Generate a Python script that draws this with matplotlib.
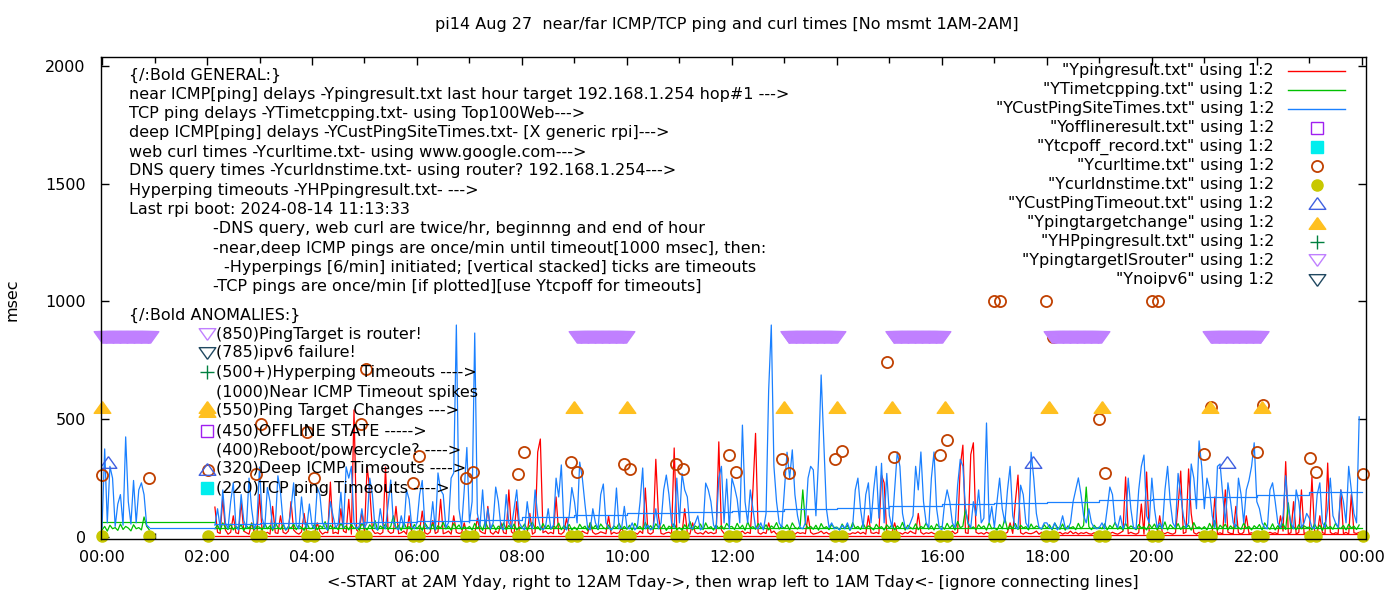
import numpy as np
import matplotlib
matplotlib.use("Agg")
import matplotlib.pyplot as plt

nan = float("nan")

# ---- data -----------------------------------------------------------------
# ping series sampled every 3 minutes, 00:00 .. 23:57 (no measurement 1AM-2AM)
near_icmp_ms = (
    [nan] * 20 +                                                                          # 00h
    [nan] * 20 +                                                                          # 01h
    [nan, nan, nan, 127, 20, 15, 165, 30, 12, 20, 90, 18, 14, 150, 25, 18, 12, 60, 20, 15] +  # 02h
    [180, 25, 15, 20, 12, 130, 18, 15, 90, 20, 14, 25, 150, 30, 18, 12, 22, 100, 15, 20] +    # 03h
    [18, 15, 60, 25, 12, 20, 18, 233, 15, 20, 14, 120, 25, 18, 160, 12, 540, 30, 18, 110] +   # 04h
    [20, 300, 200, 30, 15, 18, 12, 20, 297, 25, 15, 20, 130, 14, 18, 25, 12, 90, 20, 15] +    # 05h
    [15, 25, 110, 18, 12, 20, 70, 15, 22, 160, 14, 18, 25, 12, 90, 20, 15, 18, 60, 12] +      # 06h
    [20, 15, 12, 80, 25, 18, 14, 130, 20, 12, 25, 15, 60, 18, 14, 200, 22, 12, 150, 20] +     # 07h
    [15, 25, 18, 100, 12, 20, 361, 416, 18, 25, 14, 20, 14, 170, 15, 12, 22, 80, 18, 15] +    # 08h
    [20, 15, 12, 25, 18, 14, 60, 20, 12, 15, 22, 18, 14, 90, 12, 20, 15, 18, 40, 12] +        # 09h
    [15, 20, 14, 18, 12, 25, 15, 208, 18, 12, 20, 330, 90, 15, 12, 18, 20, 14, 378, 25] +     # 10h
    [20, 15, 120, 18, 12, 60, 20, 14, 18, 12, 25, 15, 20, 14, 18, 404, 30, 15, 12, 20] +      # 11h
    [15, 20, 12, 18, 25, 14, 20, 15, 200, 440, 18, 12, 20, 15, 60, 18, 25, 12, 20, 14] +      # 12h
    [20, 14, 18, 25, 12, 20, 15, 18, 14, 90, 20, 12, 15, 18, 25, 14, 20, 12, 18, 15] +        # 13h
    [12, 18, 15, 20, 14, 12, 18, 15, 22, 14, 20, 12, 90, 18, 15, 20, 14, 263, 230, 18] +      # 14h
    [15, 20, 60, 14, 18, 12, 20, 15, 25, 18, 14, 100, 20, 12, 18, 15, 20, 14, 12, 18] +       # 15h
    [20, 15, 18, 12, 25, 14, 20, 300, 390, 18, 15, 350, 400, 20, 14, 18, 12, 20, 15, 18] +    # 16h
    [15, 20, 12, 18, 14, 20, 60, 15, 150, 263, 18, 12, 20, 15, 14, 18, 25, 12, 20, 15] +      # 17h
    [18, 12, 20, 15, 14, 20, 12, 18, 15, 25, 14, 20, 12, 18, 15, 20, 14, 12, 18, 15] +        # 18h
    [20, 15, 12, 18, 14, 20, 15, 12, 18, 25, 255, 14, 20, 15, 12, 18, 140, 12, 276, 20] +     # 19h
    [15, 20, 12, 90, 18, 14, 20, 15, 12, 18, 130, 280, 15, 20, 289, 100, 18, 12, 20, 15] +    # 20h
    [18, 12, 20, 15, 170, 14, 18, 12, 200, 20, 15, 14, 130, 18, 12, 20, 90, 15, 18, 12] +     # 21h
    [20, 15, 12, 18, 14, 20, 15, 18, 12, 90, 25, 320, 14, 18, 150, 12, 20, 200, 15, 18] +     # 22h
    [14, 255, 20, 12, 90, 18, 15, 314, 20, 12, 18, 15, 200, 14, 20, 12, 180, 18, 15, 20]      # 23h
)

tcp_ping_ms = (
    [30, 45, 25, 50, 35, 40, 28, 55, 32, 45, 38, 26, 52, 35, 40, 30, 85, 45, 30, nan] +       # 00h
    [nan] * 20 +                                                                          # 01h
    [nan, nan, nan, 35, 50, 28, 60, 40, 32, 55, 30, 45, 38, 52, 27, 48, 36, 58, 31, 44] +     # 02h
    [42, 30, 58, 35, 48, 27, 62, 40, 33, 52, 29, 45, 37, 55, 31, 49, 40, 28, 60, 36] +        # 03h
    [36, 55, 30, 48, 40, 65, 28, 50, 35, 44, 31, 58, 39, 47, 30, 54, 36, 42, 29, 57] +        # 04h
    [40, 30, 52, 36, 70, 29, 47, 38, 56, 32, 45, 90, 35, 50, 28, 61, 37, 44, 31, 53] +        # 05h
    [35, 50, 28, 60, 42, 33, 55, 30, 48, 37, 62, 34, 46, 29, 57, 38, 51, 32, 44, 36] +        # 06h
    [45, 30, 58, 36, 50, 28, 65, 40, 33, 52, 30, 46, 38, 60, 31, 49, 35, 55, 29, 43] +        # 07h
    [38, 55, 30, 48, 62, 35, 44, 29, 57, 36, 50, 33, 46, 40, 59, 31, 48, 37, 53, 30] +        # 08h
    [42, 30, 54, 37, 46, 28, 60, 35, 49, 31, 55, 40, 34, 51, 29, 47, 38, 58, 32, 45] +        # 09h
    [33, 50, 29, 58, 38, 45, 30, 62, 36, 48, 32, 56, 40, 35, 53, 28, 46, 39, 57, 31] +        # 10h
    [40, 28, 52, 35, 66, 30, 47, 39, 55, 31, 60, 37, 44, 29, 51, 36, 48, 33, 58, 42] +        # 11h
    [45, 32, 58, 36, 50, 29, 64, 38, 44, 33, 57, 40, 35, 52, 30, 47, 39, 61, 34, 46] +        # 12h
    [36, 52, 30, 60, 41, 34, 48, 200, 56, 38, 45, 33, 50, 29, 57, 37, 44, 31, 53, 40] +       # 13h
    [42, 30, 55, 36, 49, 28, 61, 37, 45, 32, 58, 35, 47, 40, 30, 54, 38, 44, 29, 52] +        # 14h
    [38, 53, 30, 47, 36, 62, 29, 50, 40, 34, 56, 31, 45, 38, 59, 33, 48, 30, 55, 41] +        # 15h
    [45, 33, 58, 37, 51, 30, 66, 39, 46, 120, 55, 36, 43, 31, 52, 38, 47, 29, 60, 35] +       # 16h
    [40, 29, 53, 35, 80, 31, 48, 37, 57, 32, 50, 38, 44, 30, 55, 36, 47, 41, 33, 52] +        # 17h
    [36, 52, 30, 59, 41, 33, 55, 29, 47, 38, 44, 31, 58, 35, 49, 212, 44, 31, 50, 37] +       # 18h
    [42, 35, 56, 30, 49, 38, 62, 33, 45, 29, 58, 36, 47, 40, 31, 53, 38, 44, 30, 55] +        # 19h
    [38, 55, 31, 48, 36, 64, 30, 52, 40, 34, 57, 32, 46, 39, 50, 29, 61, 37, 43, 33] +        # 20h
    [44, 30, 58, 36, 70, 29, 50, 38, 55, 31, 47, 35, 52, 40, 33, 59, 37, 45, 30, 48] +        # 21h
    [37, 53, 30, 60, 41, 33, 56, 30, 48, 36, 56, 32, 145, 38, 44, 31, 52, 35, 47, 40] +       # 22h
    [42, 31, 55, 35, 50, 28, 61, 37, 45, 33, 58, 40, 36, 49, 30, 54, 38, 46, 32, 51]          # 23h
)

deep_icmp_ms = (
    [40, 374, 60, 300, 250, 45, 140, 180, 50, 425, 150, 55, 240, 60, 200, 230, 180, 50, 40, nan] +  # 00h
    [nan] * 20 +                                                                                # 01h
    [nan, nan, nan, 50, 120, 40, 200, 60, 35, 150, 230, 45, 30, 180, 70, 40, 250, 120, 35, 60] +    # 02h
    [297, 80, 40, 210, 150, 35, 45, 260, 190, 60, 30, 40, 120, 230, 50, 35, 170, 60, 40, 140] +     # 03h
    [50, 35, 210, 180, 60, 40, 30, 150, 90, 40, 55, 190, 40, 298, 250, 300, 60, 35, 45, 120] +      # 04h
    [40, 60, 250, 180, 40, 30, 120, 50, 35, 140, 242, 60, 40, 30, 90, 40, 200, 160, 45, 35] +       # 05h
    [60, 180, 240, 50, 35, 40, 150, 30, 272, 200, 180, 40, 60, 250, 272, 900, 120, 40, 200, 380] +  # 06h
    [60, 150, 866, 100, 45, 200, 40, 120, 35, 60, 212, 150, 40, 30, 180, 60, 40, 120, 200, 60] +    # 07h
    [40, 30, 150, 60, 35, 200, 90, 40, 30, 45, 120, 35, 50, 250, 170, 306, 40, 30, 90, 210] +       # 08h
    [150, 60, 318, 250, 140, 40, 30, 120, 60, 35, 180, 225, 60, 40, 30, 45, 208, 35, 40, 130] +     # 09h
    [40, 35, 60, 30, 45, 150, 293, 35, 50, 30, 40, 120, 35, 60, 200, 263, 180, 60, 40, 250] +       # 10h
    [60, 270, 200, 170, 40, 35, 60, 90, 30, 40, 229, 200, 150, 50, 35, 250, 300, 60, 246, 35] +     # 11h
    [250, 210, 160, 60, 475, 150, 60, 200, 120, 40, 35, 60, 30, 100, 624, 900, 300, 150, 60, 40] +  # 12h
    [200, 360, 250, 370, 180, 90, 40, 35, 60, 250, 300, 285, 90, 330, 688, 400, 120, 40, 60, 35] +  # 13h
    [40, 30, 50, 35, 60, 30, 45, 200, 250, 120, 40, 180, 230, 60, 200, 300, 80, 313, 60, 270] +     # 14h
    [90, 40, 200, 361, 300, 100, 40, 35, 60, 90, 300, 200, 361, 150, 60, 40, 250, 361, 120, 40] +   # 15h
    [30, 140, 200, 150, 60, 40, 220, 330, 300, 120, 60, 40, 150, 90, 200, 60, 80, 484, 60, 130] +   # 16h
    [40, 150, 250, 120, 60, 200, 300, 90, 40, 35, 220, 180, 60, 40, 360, 250, 100, 40, 35, 60] +    # 17h
    [60, 40, 35, 60, 30, 45, 90, 40, 35, 60, 150, 200, 251, 180, 90, 60, 120, 60, 40, 35] +         # 18h
    [40, 60, 35, 120, 212, 180, 60, 40, 90, 35, 60, 250, 120, 40, 35, 200, 300, 348, 90, 60] +      # 19h
    [250, 120, 40, 60, 35, 200, 300, 150, 60, 40, 270, 180, 90, 40, 60, 310, 250, 120, 408, 300] +  # 20h
    [120, 250, 200, 90, 40, 300, 310, 180, 60, 230, 150, 60, 40, 250, 180, 60, 200, 240, 300, 400] +  # 21h
    [150, 120, 60, 40, 35, 200, 230, 150, 60, 40, 90, 260, 120, 60, 35, 200, 150, 40, 60, 100] +    # 22h
    [80, 40, 35, 180, 230, 60, 40, 120, 250, 90, 60, 40, 200, 150, 60, 300, 200, 100, 60, 510]      # 23h
)

# wrap-around connecting lines (hour, msec)
near_link_hours = [2.15, 12.0, 18.0, 21.0, 24.0]
near_link_ms = [4, 6, 9, 12, 12]
tcp_link_hours = [0.0, 2.15]
tcp_link_ms = [65, 65]
tcp_link2_hours = [2.15, 24.0]
tcp_link2_ms = [40, 40]
deep_link_hours = [0.92, 2.15]
deep_link_ms = [38, 38]
deep_step_hours = [2.15, 3, 4, 5, 6, 7, 8, 9, 10, 11, 12, 13, 14, 15, 16,
                   17, 18, 19, 20, 21, 22, 23, 24]
deep_step_ms = [55, 58, 60, 63, 66, 72, 85, 92, 100, 106, 112, 118, 125, 132,
                140, 144, 148, 155, 161, 168, 178, 190, 190]

# web curl and DNS query, twice per hour
curl_hours = [0.00, 0.90, 2.02, 2.94, 3.03, 3.91, 4.04, 4.94, 5.03, 5.93,
              6.04, 6.94, 7.07, 7.93, 8.04, 8.94, 9.05, 9.95, 10.06, 10.94,
              11.07, 11.95, 12.07, 12.96, 13.08, 13.97, 14.09, 14.96, 15.08,
              15.97, 16.09, 16.99, 17.10, 17.98, 18.11, 18.99, 19.10, 20.00,
              20.11, 20.99, 21.12, 22.00, 22.11, 23.01, 23.12, 24.02]
curl_ms = [263, 250, 284, 268, 480, 446, 250, 480, 713, 229,
           344, 251, 276, 267, 361, 318, 276, 309, 289, 310,
           289, 348, 276, 330, 272, 330, 365, 743, 340,
           348, 412, 1000, 1000, 1000, 850, 500, 272, 1000,
           1000, 352, 552, 361, 561, 335, 276, 268]
dns_ms = [4, 5, 3, 4, 6, 4, 5, 3, 4, 5,
          4, 3, 5, 4, 6, 4, 3, 5, 4, 4,
          5, 3, 4, 6, 4, 5, 3, 4, 5,
          4, 3, 5, 4, 4, 6, 3, 5, 4,
          5, 4, 3, 5, 4, 6, 4, 5]

cust_timeout_hours = [0.11, 17.73, 21.43]
cust_timeout_ms = [320, 320, 320]

target_change_hours = [0.0, 2.0, 9.0, 10.0, 13.0, 14.0, 15.05, 16.05,
                       18.05, 19.05, 21.1, 22.1]
target_change_ms = [550] * len(target_change_hours)

# ping target is router: once per minute during these spans
router_start = [0.0, 9.05, 13.08, 15.08, 18.10, 21.12]
router_end = [0.92, 9.99, 14.00, 16.00, 19.04, 22.07]
router_ms = 850

tick_hours = list(range(0, 25, 2))
tick_labels = ["%02d:00" % (h % 24) for h in tick_hours]

# ---- styles ----------------------------------------------------------------
RED, GREEN, BLUE = "#ff0000", "#00c000", "#1a80ff"
CURL, DNS = "#c04000", "#c8c800"
CHANGE, ROUTER, CUSTTO = "#ffc020", "#c080ff", "#4060e0"
OFFLINE, TCPOFF, HPPING, NOIPV6 = "#a020f0", "#00eeee", "#008040", "#204860"
TRI_UP = [(0, 0.7), (-1, -0.7), (1, -0.7), (0, 0.7)]
TRI_DN = [(0, -0.7), (-1, 0.7), (1, 0.7), (0, -0.7)]

plt.rcParams["font.family"] = "DejaVu Sans"
plt.rcParams["font.size"] = 11.5

W, H = 1400, 600
fig = plt.figure(figsize=(W / 100, H / 100), dpi=100)
ax = fig.add_axes([101 / W, 1 - 539 / H, (1366 - 101) / W, (539 - 57) / H])


def fx(px):
    return px / W


def fy(py):
    return 1 - py / H


slot_hours = np.arange(len(deep_icmp_ms)) * 3 / 60.0
line = dict(lw=0.9)

ax.plot(slot_hours, near_icmp_ms, color=RED, **line)
ax.plot(near_link_hours, near_link_ms, color=RED, drawstyle="steps-post", **line)
ax.plot(slot_hours, tcp_ping_ms, color=GREEN, **line)
ax.plot(tcp_link_hours, tcp_link_ms, color=GREEN, **line)
ax.plot(tcp_link2_hours, tcp_link2_ms, color=GREEN, **line)
ax.plot(slot_hours, deep_icmp_ms, color=BLUE, **line)
ax.plot(deep_link_hours, deep_link_ms, color=BLUE, **line)
ax.plot(deep_step_hours, deep_step_ms, color=BLUE, drawstyle="steps-post", **line)

ax.plot(curl_hours, curl_ms, ls="none", marker="o", ms=8, mfc="none",
        mec=CURL, mew=1.3, clip_on=False)
ax.plot(curl_hours, dns_ms, ls="none", marker="o", ms=8, mfc=DNS, mec=DNS,
        clip_on=False)
ax.plot(cust_timeout_hours, cust_timeout_ms, ls="none", marker=TRI_UP, ms=12,
        mfc="none", mec=CUSTTO, mew=1.0)
ax.plot(target_change_hours, target_change_ms, ls="none", marker=TRI_UP,
        ms=12, mfc=CHANGE, mec=CHANGE, clip_on=False)
router_hours = np.concatenate([np.arange(s, e + 1e-9, 1 / 60.0)
                               for s, e in zip(router_start, router_end)])
ax.plot(router_hours, [router_ms] * len(router_hours), ls="none",
        marker=TRI_DN, ms=12, mfc="none", mec=ROUTER, mew=1.0, clip_on=False)

ax.set_xlim(-0.02, 24.08)
ax.set_ylim(-8.5, 2038)
ax.set_xticks(tick_hours, labels=tick_labels)
ax.set_xticks(range(1, 24, 2), minor=True)
ax.set_yticks([0, 500, 1000, 1500, 2000])
ax.tick_params(which="both", direction="in", top=True, right=True, width=1)
ax.tick_params(which="major", length=6)
ax.tick_params(which="minor", length=4)
ax.tick_params(axis="y", pad=11)
ax.tick_params(axis="x", pad=8)
for s in ax.spines.values():
    s.set_linewidth(1)

fig.text(fx(727), fy(25), "pi14 Aug 27  near/far ICMP/TCP ping and curl times "
         "[No msmt 1AM-2AM]", ha="center", va="center")
fig.text(fx(12), fy(300), "msec", rotation=90, ha="center", va="center")
fig.text(fx(733), fy(582), "<-START at 2AM Yday, right to 12AM Tday->, then "
         "wrap left to 1AM Tday<- [ignore connecting lines]",
         ha="center", va="center")

# left notes
general = [
    (129, 75, "{/:Bold GENERAL:}"),
    (129, 94, "near ICMP[ping] delays -Ypingresult.txt last hour target "
              "192.168.1.254 hop#1 --->"),
    (129, 114, "TCP ping delays -YTimetcpping.txt- using Top100Web--->"),
    (129, 133, "deep ICMP[ping] delays -YCustPingSiteTimes.txt- [X generic rpi]--->"),
    (129, 152, "web curl times -Ycurltime.txt- using www.google.com--->"),
    (129, 171, "DNS query times -Ycurldnstime.txt- using router? 192.168.1.254--->"),
    (129, 190, "Hyperping timeouts -YHPpingresult.txt- --->"),
    (129, 209, "Last rpi boot: 2024-08-14 11:13:33"),
    (213, 229, "-DNS query, web curl are twice/hr, beginnng and end of hour"),
    (213, 248, "-near,deep ICMP pings are once/min until timeout[1000 msec], then:"),
    (224, 267, "-Hyperpings [6/min] initiated; [vertical stacked] ticks are timeouts"),
    (213, 287, "-TCP pings are once/min [if plotted][use Ytcpoff for timeouts]"),
    (129, 315, "{/:Bold ANOMALIES:}"),
]
for px, py, s in general:
    fig.text(fx(px), fy(py), s, ha="left", va="center")

anomalies = [
    (334, "(850)PingTarget is router!", dict(marker=TRI_DN, ms=12, mfc="none", mec=ROUTER)),
    (353, "(785)ipv6 failure!", dict(marker=TRI_DN, ms=12, mfc="none", mec=NOIPV6)),
    (372, "(500+)Hyperping Timeouts ---->", dict(marker="+", ms=10, mec=HPPING)),
    (392, "(1000)Near ICMP Timeout spikes", None),
    (411, "(550)Ping Target Changes --->", dict(marker=TRI_UP, ms=12, mfc=CHANGE, mec=CHANGE)),
    (431, "(450)OFFLINE STATE ----->", dict(marker="s", ms=9, mfc="none", mec=OFFLINE)),
    (450, "(400)Reboot/powercycle? ---->", None),
    (469, "(320)Deep ICMP Timeouts ---->", dict(marker=TRI_UP, ms=12, mfc="none", mec=CUSTTO)),
    (488, "(220)TCP ping Timeouts ---->", dict(marker="s", ms=9, mfc=TCPOFF, mec=TCPOFF)),
]
for py, s, mk in anomalies:
    fig.text(fx(216), fy(py), s, ha="left", va="center")
    if mk:
        ax.plot([fx(207)], [fy(py)], ls="none", mew=1.0, transform=fig.transFigure,
                clip_on=False, **mk)

# key, gnuplot style: right aligned names, sample on the right
key = [
    ('"Ypingresult.txt" using 1:2', dict(color=RED, lw=1.0)),
    ('"YTimetcpping.txt" using 1:2', dict(color=GREEN, lw=1.0)),
    ('"YCustPingSiteTimes.txt" using 1:2', dict(color=BLUE, lw=1.0)),
    ('"Yofflineresult.txt" using 1:2', dict(marker="s", ms=9, mfc="none", mec=OFFLINE)),
    ('"Ytcpoff_record.txt" using 1:2', dict(marker="s", ms=9, mfc=TCPOFF, mec=TCPOFF)),
    ('"Ycurltime.txt" using 1:2', dict(marker="o", ms=8, mfc="none", mec=CURL, mew=1.3)),
    ('"Ycurldnstime.txt" using 1:2', dict(marker="o", ms=8, mfc=DNS, mec=DNS)),
    ('"YCustPingTimeout.txt" using 1:2', dict(marker=TRI_UP, ms=12, mfc="none", mec=CUSTTO)),
    ('"Ypingtargetchange" using 1:2', dict(marker=TRI_UP, ms=12, mfc=CHANGE, mec=CHANGE)),
    ('"YHPpingresult.txt" using 1:2', dict(marker="+", ms=10, mec=HPPING)),
    ('"YpingtargetISrouter" using 1:2', dict(marker=TRI_DN, ms=12, mfc="none", mec=ROUTER)),
    ('"Ynoipv6" using 1:2', dict(marker=TRI_DN, ms=12, mfc="none", mec=NOIPV6)),
]
for i, (s, st) in enumerate(key):
    py = 70.5 + i * 19.0
    fig.text(fx(1274), fy(py), s, ha="right", va="center")
    if "marker" in st:
        st.setdefault("mew", 1.0)
        ax.plot([fx(1317)], [fy(py)], ls="none", transform=fig.transFigure,
                clip_on=False, **st)
    else:
        ax.plot([fx(1288), fx(1345)], [fy(py), fy(py)], transform=fig.transFigure,
                clip_on=False, **st)

fig.savefig("out.png", dpi=100)
